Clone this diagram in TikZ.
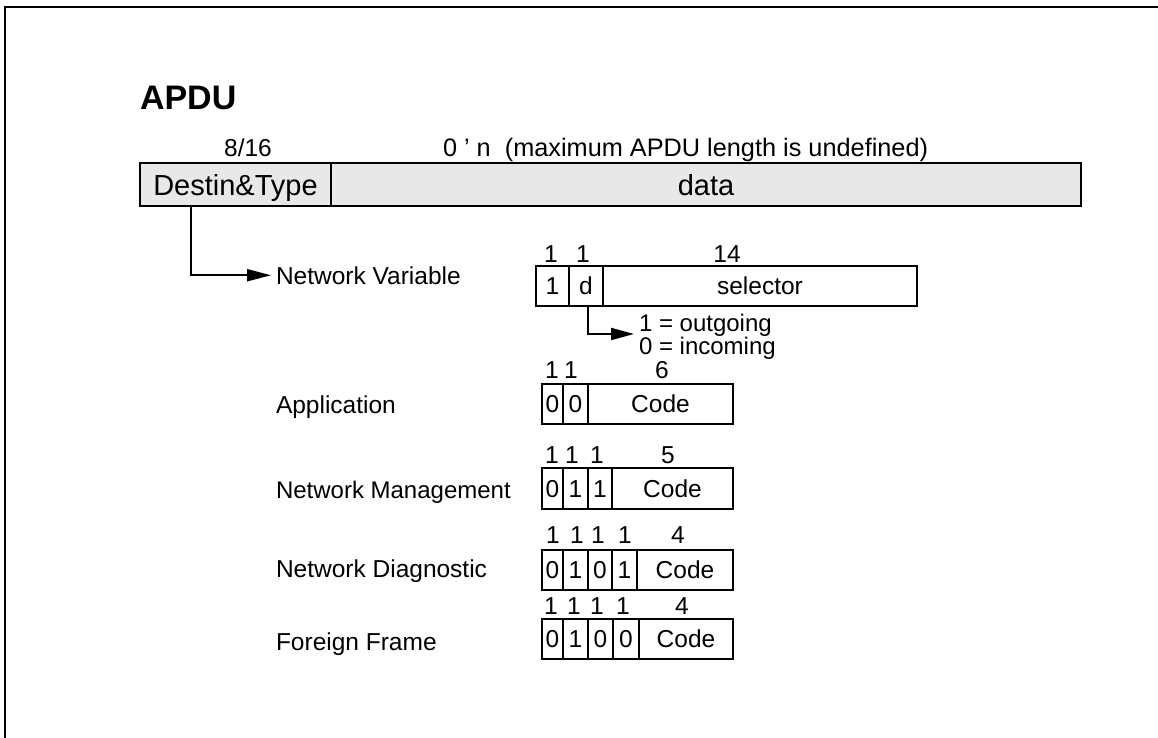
\documentclass[tikz,border=0pt]{standalone}
\usepackage{fontspec}
\setmainfont{Liberation Sans}
\usetikzlibrary{arrows.meta}
\definecolor{barfill}{HTML}{E8E8E8}

\begin{document}
\begin{tikzpicture}[x=1pt,y=-1pt,
  every node/.style={inner sep=0pt, outer sep=0pt},
  txt/.style={font=\fontsize{24.5}{28}\selectfont, text height=17.5pt, text depth=0pt},
  big/.style={font=\fontsize{29}{34}\selectfont, text height=21pt, text depth=0pt},
  bitw/.style={txt, anchor=base},
  lbl/.style={txt, anchor=base west},
  cell/.style={draw, line width=2pt, txt, anchor=north west},
  bar/.style={cell, big, fill=barfill},
  conn/.style={line width=2pt, -{Triangle[length=24pt,width=12pt]}},
  frame/.style={line width=2.4pt}
]
\useasboundingbox (0,0) rectangle (1158,738);

% page frame (top and left edges only)
\draw[frame] (5,738) -- (5,7) -- (1158,7);

% title
\node[anchor=base west, font=\fontsize{34}{40}\selectfont\bfseries] (title) at (140,110) {APDU};

% APDU layout bar
\node[bitw] (lenDT) at (248,157) {8/16};
\node[lbl, font=\fontsize{25.3}{29}\selectfont] (lenData) at (443,157) {0 ' n\ \ (maximum APDU length is undefined)};
\node[bar, minimum width=191pt, minimum height=43pt] (dt) at (140,163) {Destin\&Type};
\node[bar, minimum width=750pt, minimum height=43pt] (data) at (331,163) {data};

% type names
\node[lbl] (nv)   at (276,284) {Network Variable};
\node[lbl] (app)  at (276,413) {Application};
\node[lbl, font=\fontsize{24}{28}\selectfont] (nm) at (276,498) {Network Management};
\node[lbl] (nd)   at (276,577) {Network Diagnostic};
\node[lbl] (ff)   at (276,650) {Foreign Frame};

\draw[conn] ([xshift=51pt]dt.south west) |- ([xshift=-5pt]nv.west);

% network variable
\foreach \x/\t [count=\i] in {551/1,583/1,727/14}
  \node[bitw] (nvw\i) at (\x,262) {\t};
\node[cell, minimum width=33pt, minimum height=40pt] (nv1) at (536,266) {1};
\node[cell, minimum width=34pt, minimum height=40pt] (nvd) at (569,266) {d};
\node[cell, minimum width=314pt, minimum height=40pt] (nvsel) at (603,266) {selector};
\node[lbl, font=\fontsize{24}{28}\selectfont] (out) at (639,331) {1 = outgoing};
\node[lbl, font=\fontsize{24}{28}\selectfont] (inc) at (639,354) {0 = incoming};
\draw[line width=2pt, -{Triangle[length=23pt,width=12pt]}]
  ([xshift=2pt]nvd.south) |- ([xshift=-5pt,yshift=-3pt]out.south west);

% application
\foreach \x/\t [count=\i] in {552/1,571/1,662/6}
  \node[bitw] (apw\i) at (\x,378) {\t};
\node[cell, minimum width=21pt, minimum height=40pt] (ap1) at (542,384) {0};
\node[cell, minimum width=25pt, minimum height=40pt] (ap2) at (563,384) {0};
\node[cell, minimum width=145pt, minimum height=40pt] (apc) at (588,384) {Code};

% network management
\foreach \x/\t [count=\i] in {552/1,572/1,597/1,668/5}
  \node[bitw] (nmw\i) at (\x,463) {\t};
\node[cell, minimum width=21pt, minimum height=41pt] (nm1) at (542,468) {0};
\node[cell, minimum width=25pt, minimum height=41pt] (nm2) at (563,468) {1};
\node[cell, minimum width=24pt, minimum height=41pt] (nm3) at (588,468) {1};
\node[cell, minimum width=121pt, minimum height=41pt] (nmc) at (612,468) {Code};

% network diagnostic
\foreach \x/\t [count=\i] in {553/1,577/1,598/1,625/1,678/4}
  \node[bitw] (ndw\i) at (\x,543) {\t};
\node[cell, minimum width=21pt, minimum height=40pt] (nd1) at (542,550) {0};
\node[cell, minimum width=25pt, minimum height=40pt] (nd2) at (563,550) {1};
\node[cell, minimum width=24pt, minimum height=40pt] (nd3) at (588,550) {0};
\node[cell, minimum width=25pt, minimum height=40pt] (nd4) at (612,550) {1};
\node[cell, minimum width=96pt, minimum height=40pt] (ndc) at (637,550) {Code};

% foreign frame
\foreach \x/\t [count=\i] in {551/1,574/1,597/1,623/1,682/4}
  \node[bitw] (ffw\i) at (\x,614) {\t};
\node[cell, minimum width=21pt, minimum height=40pt] (ff1) at (542,619) {0};
\node[cell, minimum width=25pt, minimum height=40pt] (ff2) at (563,619) {1};
\node[cell, minimum width=25pt, minimum height=40pt] (ff3) at (588,619) {0};
\node[cell, minimum width=26pt, minimum height=40pt] (ff4) at (613,619) {0};
\node[cell, minimum width=94pt, minimum height=40pt] (ffc) at (639,619) {Code};
\end{tikzpicture}
\end{document}
